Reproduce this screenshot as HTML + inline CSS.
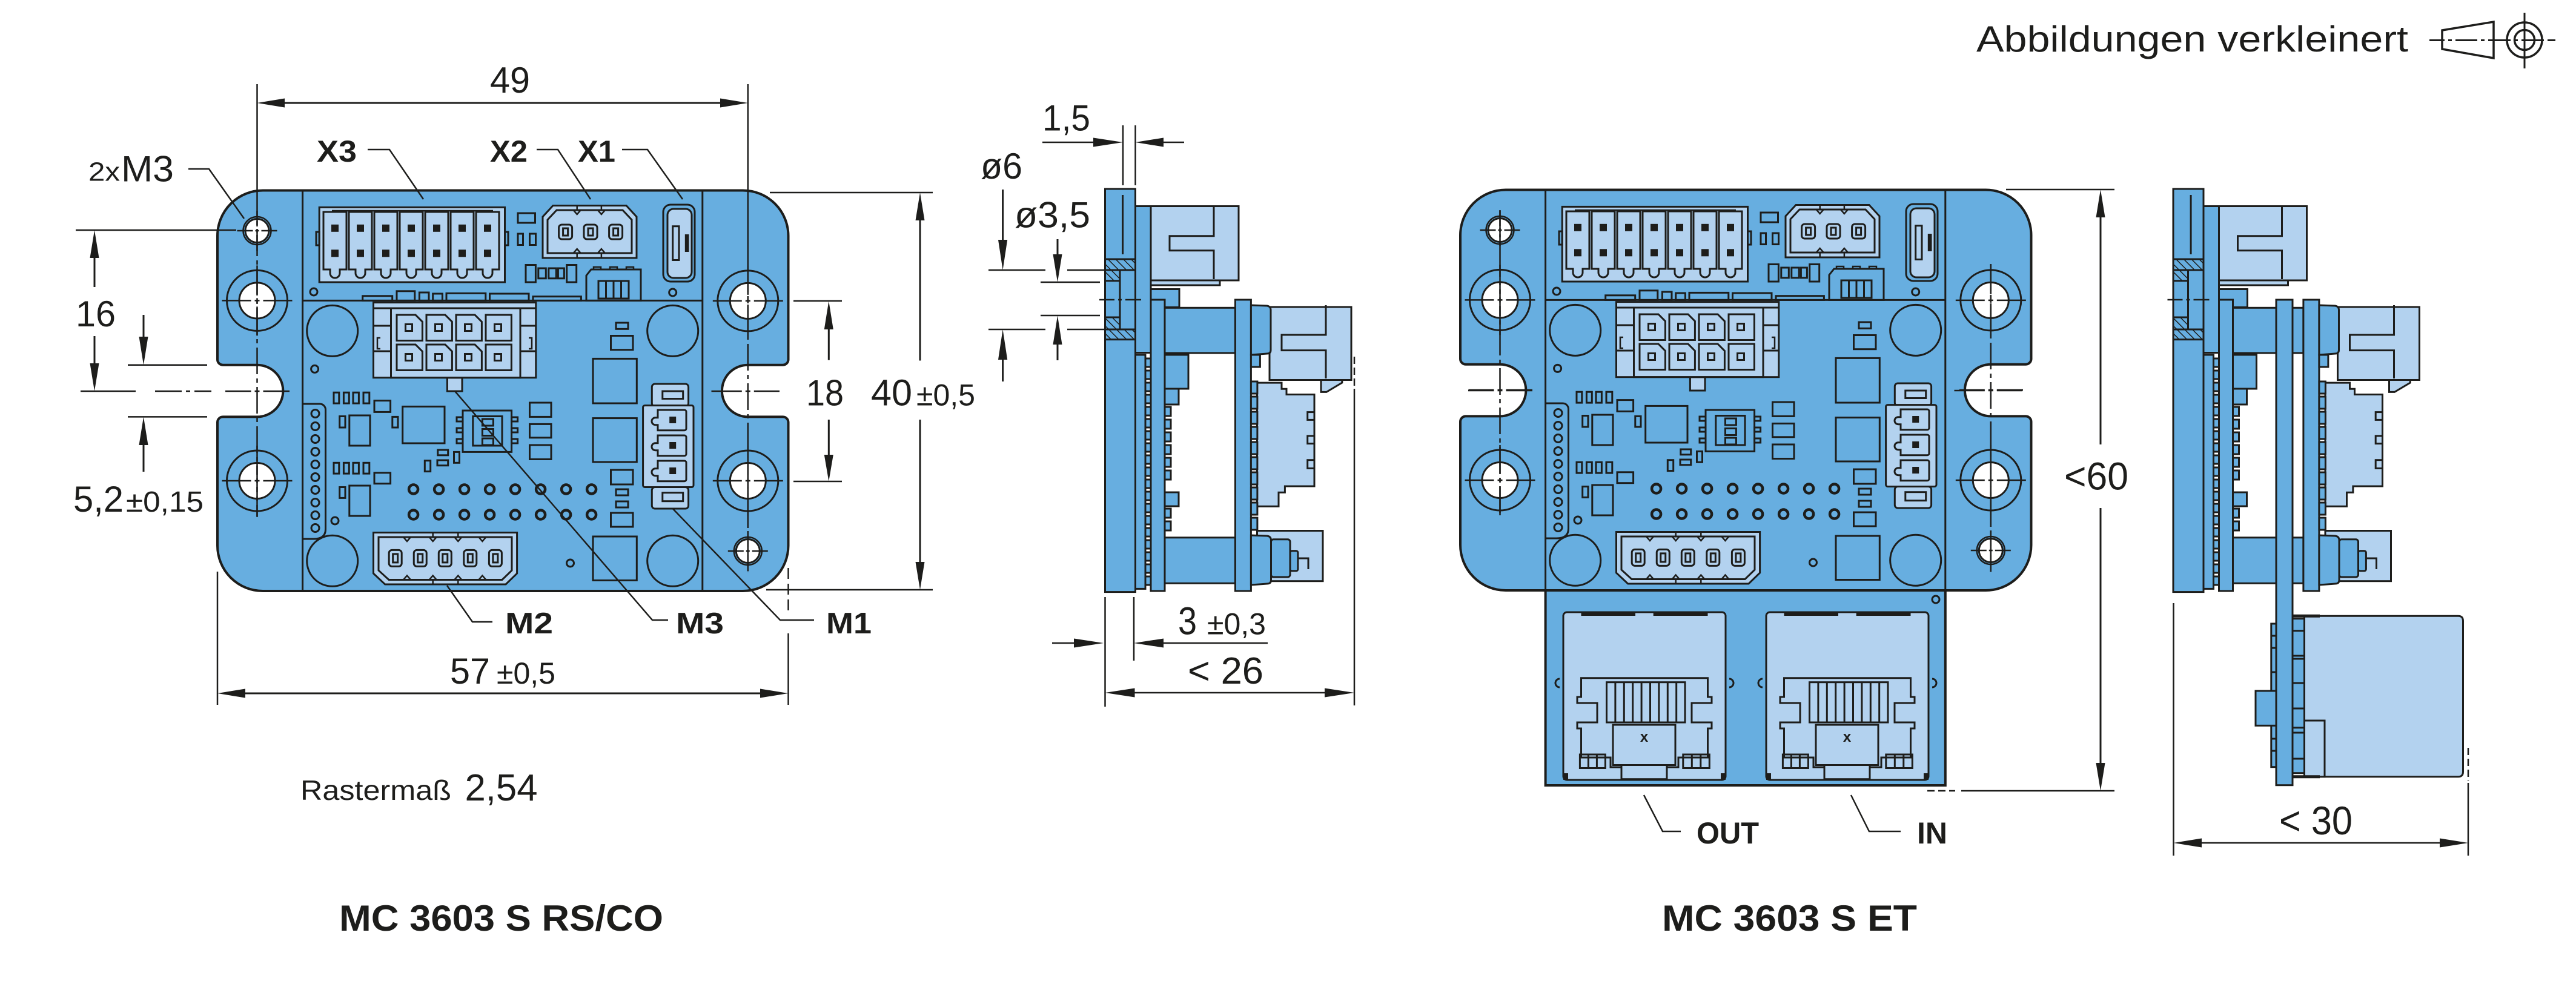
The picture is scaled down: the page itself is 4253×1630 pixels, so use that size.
<!DOCTYPE html>
<html><head><meta charset="utf-8">
<style>
html,body{margin:0;padding:0;background:#fff}
svg{display:block}
.k{fill:none;stroke:#1d1d1b;stroke-width:3}
.b{fill:#67aee0;stroke:#1d1d1b;stroke-width:3}
.l{fill:#b3d2ef;stroke:#1d1d1b;stroke-width:3}
.d{fill:#1d1d1b}
.t{fill:none;stroke:#1d1d1b;stroke-width:2.5}
.dm{fill:none;stroke:#1d1d1b;stroke-width:3}
.cl{fill:none;stroke:#1d1d1b;stroke-width:2.5;stroke-dasharray:44 7 7 7}
.w{fill:#fff;stroke:#1d1d1b;stroke-width:3}
text{font-family:"Liberation Sans",Arial,sans-serif;fill:#1d1d1b}
.bd{font-weight:bold}
</style></head><body>
<svg width="4253" height="1630" viewBox="0 0 4253 1630" xmlns="http://www.w3.org/2000/svg">
<defs>
<pattern id="h" patternUnits="userSpaceOnUse" width="9" height="9" patternTransform="rotate(-45)"><rect width="9" height="9" fill="#67aee0"/><line x1="0" y1="0" x2="0" y2="9" stroke="#1d1d1b" stroke-width="3"/></pattern>

<g id="board">
<path d="M434,314.5 L1226.5,314.5 A75 75 0 0 1 1301.5,389.5 L1301.5,593.7 A9 9 0 0 1 1292.5,602.7 L1234.8,602.7 A42.85 42.85 0 0 0 1234.8,688.4 L1292.5,688.4 A9 9 0 0 1 1301.5,697.4 L1301.5,901 A75 75 0 0 1 1226.5,976 L434,976 A75 75 0 0 1 359,901 L359,697.4 A9 9 0 0 1 368,688.4 L424.5,688.4 A42.85 42.85 0 0 0 424.5,602.7 L368,602.7 A9 9 0 0 1 359,593.7 L359,389.5 A75 75 0 0 1 434,314.5 Z" fill="#67aee0" stroke="#1d1d1b" stroke-width="4"/>
<path d="M499.6,314.5V976M1159.8,314.5V976M499.6,496.4H1159.8" class="k"/>
<!-- holes -->
<circle cx="424.5" cy="496.4" r="50" class="k"/><circle cx="424.5" cy="496.4" r="29.5" class="w"/>
<circle cx="424.5" cy="794" r="50" class="k"/><circle cx="424.5" cy="794" r="29.5" class="w"/>
<circle cx="1234.8" cy="496.9" r="50" class="k"/><circle cx="1234.8" cy="496.9" r="29.5" class="w"/>
<circle cx="1234.8" cy="794" r="50" class="k"/><circle cx="1234.8" cy="794" r="29.5" class="w"/>
<circle cx="424.5" cy="381" r="23" class="t"/><circle cx="424.5" cy="381" r="19.5" class="w"/>
<circle cx="1234.8" cy="910" r="23" class="t"/><circle cx="1234.8" cy="910" r="19.5" class="w"/>
<path class="t" d="M366.5,496.4H414.5M420.5,496.4H428.5M434.5,496.4H482.5M424.5,438.4V486.4M424.5,492.4V500.4M424.5,506.4V554.4
M366.5,794H414.5M420.5,794H428.5M434.5,794H482.5M424.5,736V784M424.5,790V798M424.5,804V852
M1176.8,496.9H1224.8M1230.8,496.9H1238.8M1244.8,496.9H1292.8M1234.8,438.9V486.9M1234.8,492.9V500.9M1234.8,506.9V554.9
M1176.8,794H1224.8M1230.8,794H1238.8M1244.8,794H1292.8M1234.8,736V784M1234.8,790V798M1234.8,804V852
M391.5,381H417.5M421.5,381H427.5M431.5,381H457.5M424.5,348V374M424.5,378V384M424.5,388V414
M1201.8,910H1227.8M1231.8,910H1237.8M1241.8,910H1267.8M1234.8,877V903M1234.8,907V913M1234.8,917V943
M372,646H414.5M420.5,646H428.5M434.5,646H478M1174.5,646H1224.8M1230.8,646H1238.8M1244.8,646H1287"/>

<!-- X3 -->
<rect x="527.2" y="342.4" width="306.3" height="123.6" class="l"/>
<path d="M548,348H814" class="t"/>
<rect x="522" y="383" width="5.2" height="22" class="k"/><rect x="833.5" y="383" width="5.5" height="22" class="k"/>
<g stroke-width="4.5">
<path d="M534,350h38v95h-11v6a8 8 0 0 1 -16 0v-6h-11z" class="l" stroke-width="4.5"/>
<path d="M576,350h38v95h-11v6a8 8 0 0 1 -16 0v-6h-11z" class="l" stroke-width="4.5"/>
<path d="M618,350h38v95h-11v6a8 8 0 0 1 -16 0v-6h-11z" class="l" stroke-width="4.5"/>
<path d="M660,350h38v95h-11v6a8 8 0 0 1 -16 0v-6h-11z" class="l" stroke-width="4.5"/>
<path d="M702,350h38v95h-11v6a8 8 0 0 1 -16 0v-6h-11z" class="l" stroke-width="4.5"/>
<path d="M744,350h38v95h-11v6a8 8 0 0 1 -16 0v-6h-11z" class="l" stroke-width="4.5"/>
<path d="M786,350h38v95h-11v6a8 8 0 0 1 -16 0v-6h-11z" class="l" stroke-width="4.5"/>
</g>
<g class="d">
<rect x="547" y="370.8" width="12" height="12"/><rect x="547" y="412.3" width="12" height="12"/>
<rect x="589" y="370.8" width="12" height="12"/><rect x="589" y="412.3" width="12" height="12"/>
<rect x="631" y="370.8" width="12" height="12"/><rect x="631" y="412.3" width="12" height="12"/>
<rect x="673" y="370.8" width="12" height="12"/><rect x="673" y="412.3" width="12" height="12"/>
<rect x="715" y="370.8" width="12" height="12"/><rect x="715" y="412.3" width="12" height="12"/>
<rect x="757" y="370.8" width="12" height="12"/><rect x="757" y="412.3" width="12" height="12"/>
<rect x="799" y="370.8" width="12" height="12"/><rect x="799" y="412.3" width="12" height="12"/>
</g>
<rect x="855" y="352" width="28.5" height="16" class="k"/>
<rect x="855" y="386" width="8.5" height="18.5" class="k"/><rect x="874.5" y="386" width="10" height="18.5" class="k"/>

<!-- X2 -->
<polygon points="913,339.5 1034,339.5 1051,358 1051,426 896,426 896,358" class="l"/>
<polygon points="919,347 1028,347 1043,363 1043,418 904,418 904,363" class="k"/>
<path class="t" d="M946.7,347l6,7l6,-7M986.9,347l6,7l6,-7M946.7,418l6,-7l6,7M986.9,418l6,-7l6,7M952.7,339.5V347M992.9,339.5V347M952.7,418V426M992.9,418V426"/>
<rect x="922.6" y="371" width="22" height="24" rx="5" class="l" stroke-width="4.5"/><rect x="929.6" y="377" width="8" height="12" class="k" stroke-width="2"/>
<rect x="964" y="371" width="22" height="24" rx="5" class="l" stroke-width="4.5"/><rect x="971" y="377" width="8" height="12" class="k" stroke-width="2"/>
<rect x="1005.6" y="371" width="22" height="24" rx="5" class="l" stroke-width="4.5"/><rect x="1012.6" y="377" width="8" height="12" class="k" stroke-width="2"/>

<!-- X1 -->
<rect x="1095" y="338" width="52" height="127" rx="12" class="k"/>
<rect x="1102" y="345" width="40" height="114" rx="10" class="l"/>
<rect x="1110.7" y="373.7" width="10.3" height="55.8" class="k"/>
<rect x="1130.8" y="387" width="6.7" height="29" class="d"/>

<rect x="868" y="437.5" width="16.4" height="28.5" class="k"/>
<rect x="888.8" y="443" width="12.5" height="16.8" class="k"/>
<rect x="905.8" y="443" width="12.5" height="16.8" class="k"/>
<rect x="921.4" y="443" width="10" height="16.8" class="k"/>
<rect x="935.7" y="437.5" width="16" height="28.5" class="k"/>

<!-- DIP -->
<path d="M968,455L976,445H1058V496.4H968Z" class="k"/>
<path d="M980,445v-4h12v4M1007,445v-4h12v4M1034,445v-4h12v4" class="t"/>
<rect x="988" y="464" width="50" height="29" class="k"/>
<path d="M1000.5,464V493M1013,464V493M1025.5,464V493" class="k"/>

<circle cx="518" cy="482" r="6" class="k"/><circle cx="519.6" cy="609.4" r="6" class="k"/>
<circle cx="553" cy="860" r="6" class="k"/><circle cx="941.5" cy="930" r="6" class="k"/>
<circle cx="1110.7" cy="483" r="6" class="k"/>

<rect x="598.7" y="488.8" width="49" height="7.6" class="k"/>
<rect x="655" y="480.8" width="29.8" height="15.6" class="k"/>
<rect x="692.4" y="483" width="15.6" height="13.4" class="k"/>
<rect x="714.7" y="485" width="15.7" height="11.4" class="k"/>
<rect x="737" y="484.4" width="64.8" height="12" class="k"/>
<rect x="808.5" y="485" width="64.5" height="11.4" class="k"/>
<rect x="880" y="489.7" width="79.4" height="6.7" class="k"/>

<!-- 8 pin -->
<rect x="738.4" y="623.7" width="24.6" height="22.3" class="l"/>
<rect x="616.5" y="499.6" width="268.3" height="124.1" class="l"/>
<rect x="645.5" y="509" width="213.5" height="114.7" class="k"/>
<path class="k" d="M616.5,538H645.5M616.5,580H645.5M859,538H884.8M859,580H884.8M616.5,509H645.5M859,509H884.8"/>
<path class="t" d="M628,558h-5v18h5M873,558h5v18h-5"/>
<path class="k" d="M655,520h31l11.4,11.4v31.1h-42.4zM704,520h31l11.4,11.4v31.1h-42.4zM753,520h31l11.4,11.4v31.1h-42.4zM802,520h42.4v42.5h-42.4z
M655,569h31l11.4,11.4v31.1h-42.4zM704,569h31l11.4,11.4v31.1h-42.4zM753,569h31l11.4,11.4v31.1h-42.4zM802,569h42.4v42.5h-42.4z"/>
<g class="k" stroke-width="2.5">
<rect x="669.5" y="535.5" width="11" height="11"/><rect x="718.5" y="535.5" width="11" height="11"/><rect x="767.5" y="535.5" width="11" height="11"/><rect x="816.5" y="535.5" width="11" height="11"/>
<rect x="669.5" y="584.5" width="11" height="11"/><rect x="718.5" y="584.5" width="11" height="11"/><rect x="767.5" y="584.5" width="11" height="11"/><rect x="816.5" y="584.5" width="11" height="11"/>
</g>

<circle cx="548.7" cy="546.4" r="42" class="k"/><circle cx="548.7" cy="926.3" r="42" class="k"/>
<circle cx="1110.7" cy="546.4" r="42" class="k"/><circle cx="1110.7" cy="926.3" r="42" class="k"/>

<!-- left components -->
<g class="k">
<rect x="551" y="648.2" width="8.8" height="17.9"/><rect x="567.4" y="648.2" width="8.9" height="17.9"/><rect x="583" y="648.2" width="9.4" height="17.9"/><rect x="600" y="648.2" width="9.8" height="17.9"/>
<rect x="618" y="661.6" width="26.6" height="18.8"/>
<rect x="560.7" y="687.5" width="9.3" height="18.5"/>
<rect x="576.8" y="686" width="34.2" height="50"/>
<rect x="647.8" y="688.4" width="9.2" height="17.6"/>
<rect x="664.7" y="671.4" width="69.3" height="60.6"/>
<rect x="551" y="764.3" width="8.8" height="17.8"/><rect x="567.4" y="764.3" width="8.9" height="17.8"/><rect x="583" y="764.3" width="9.4" height="17.8"/><rect x="600" y="764.3" width="9.8" height="17.8"/>
<rect x="618" y="780.8" width="26.6" height="17.9"/>
<rect x="560.7" y="804.5" width="9.3" height="17.9"/>
<rect x="576.8" y="802" width="34.2" height="50"/>
<rect x="722.8" y="743" width="16.9" height="8.8"/><rect x="722" y="760" width="17.7" height="8.75"/>
<rect x="749.5" y="746.4" width="9" height="17.9"/><rect x="701.3" y="760.7" width="9.4" height="17.9"/>
<rect x="764" y="678" width="80.6" height="68.4"/>
<rect x="780.8" y="687.5" width="48.2" height="48.5"/>
<rect x="754" y="689" width="10" height="7"/><rect x="754" y="707" width="10" height="7"/><rect x="754" y="725" width="10" height="7"/>
<rect x="844.6" y="689" width="10" height="7"/><rect x="844.6" y="707" width="10" height="7"/><rect x="844.6" y="725" width="10" height="7"/>
<rect x="796.4" y="692" width="18" height="11"/><rect x="796.4" y="708.5" width="18" height="11"/><rect x="796.4" y="724" width="18" height="11"/>
<rect x="874.5" y="665" width="35.5" height="23.4"/><rect x="874.5" y="700.4" width="35.5" height="22.4"/><rect x="874.5" y="735" width="35.5" height="23.5"/>
<path d="M499.6,667H528A9.5 9.5 0 0 1 537.5,676.5V874Q537.5,890 518,890H499.6"/>
<circle cx="520.5" cy="683" r="6.5"/><circle cx="520.5" cy="704" r="6.5"/><circle cx="520.5" cy="725" r="6.5"/><circle cx="520.5" cy="746" r="6.5"/><circle cx="520.5" cy="767" r="6.5"/><circle cx="520.5" cy="788" r="6.5"/><circle cx="520.5" cy="809" r="6.5"/><circle cx="520.5" cy="830" r="6.5"/><circle cx="520.5" cy="851" r="6.5"/><circle cx="520.5" cy="872" r="6.5"/>
<!-- right comps -->
<rect x="1017" y="533" width="20" height="10.3"/><rect x="1008.5" y="554.5" width="36.5" height="23.2"/>
<rect x="979" y="592.4" width="72.3" height="73.6"/><rect x="979" y="690.6" width="72.3" height="72.4"/><rect x="979" y="886" width="72.3" height="72.5"/>
<rect x="1008.5" y="776" width="36.5" height="24"/><rect x="1017" y="808" width="20" height="10"/><rect x="1017" y="828" width="20" height="10"/><rect x="1008.5" y="847" width="36.5" height="23"/>
</g>
<!-- dots -->
<g fill="#67aee0" stroke="#1d1d1b" stroke-width="4.5">
<circle cx="682.6" cy="808" r="7.5"/><circle cx="724.6" cy="808" r="7.5"/><circle cx="766.6" cy="808" r="7.5"/><circle cx="808.6" cy="808" r="7.5"/><circle cx="850.6" cy="808" r="7.5"/><circle cx="892.6" cy="808" r="7.5"/><circle cx="934.6" cy="808" r="7.5"/><circle cx="976.6" cy="808" r="7.5"/>
<circle cx="682.6" cy="850" r="7.5"/><circle cx="724.6" cy="850" r="7.5"/><circle cx="766.6" cy="850" r="7.5"/><circle cx="808.6" cy="850" r="7.5"/><circle cx="850.6" cy="850" r="7.5"/><circle cx="892.6" cy="850" r="7.5"/><circle cx="934.6" cy="850" r="7.5"/><circle cx="976.6" cy="850" r="7.5"/>
</g>
<!-- M2 connector -->
<polygon points="616.5,879.5 853.6,879.5 853.6,947 835,965 635.7,965 616.5,947" class="l" stroke-width="3.5"/>
<polygon points="625,887 845,887 845,942 829,957.5 642,957.5 625,942" class="k"/>
<path class="t" d="M666,887l6,7l6,-7M708.7,887l6,7l6,-7M750.3,887l6,7l6,-7M790.4,887l6,7l6,-7M666,957.5l6,-7l6,7M708.7,957.5l6,-7l6,7M750.3,957.5l6,-7l6,7M790.4,957.5l6,-7l6,7M714.7,879.5V887M756.3,879.5V887M714.7,957.5V965M756.3,957.5V965"/>
<g>
<rect x="642.2" y="908.4" width="21" height="27" rx="5" class="l" stroke-width="4.5"/><rect x="648.7" y="914.9" width="8" height="14" class="k" stroke-width="2"/>
<rect x="683.25" y="908.4" width="21" height="27" rx="5" class="l" stroke-width="4.5"/><rect x="689.75" y="914.9" width="8" height="14" class="k" stroke-width="2"/>
<rect x="724.3" y="908.4" width="21" height="27" rx="5" class="l" stroke-width="4.5"/><rect x="730.8" y="914.9" width="8" height="14" class="k" stroke-width="2"/>
<rect x="765.8" y="908.4" width="21" height="27" rx="5" class="l" stroke-width="4.5"/><rect x="772.3" y="914.9" width="8" height="14" class="k" stroke-width="2"/>
<rect x="807.4" y="908.4" width="21" height="27" rx="5" class="l" stroke-width="4.5"/><rect x="813.9" y="914.9" width="8" height="14" class="k" stroke-width="2"/>
</g>
<!-- M1 connector -->
<rect x="1076.3" y="634" width="60.3" height="37" rx="5" class="l"/><rect x="1093.8" y="646" width="33.9" height="12.5" class="k" stroke-width="2.5"/>
<rect x="1076.3" y="804.5" width="60.3" height="35.5" rx="5" class="l"/><rect x="1093.8" y="813.7" width="33.9" height="14" class="k" stroke-width="2.5"/>
<rect x="1061.6" y="669.6" width="83.4" height="134.9" rx="3" class="l"/>
<path class="l" stroke-width="3.5" d="M1086,677h44a3 3 0 0 1 3 3v27.7a3 3 0 0 1 -3 3h-44v-9h-4a6 6 0 0 1 0 -12h4z"/>
<path class="l" stroke-width="3.5" d="M1086,719h44a3 3 0 0 1 3 3v27.7a3 3 0 0 1 -3 3h-44v-9h-4a6 6 0 0 1 0 -12h4z"/>
<path class="l" stroke-width="3.5" d="M1086,761h44a3 3 0 0 1 3 3v27.7a3 3 0 0 1 -3 3h-44v-9h-4a6 6 0 0 1 0 -12h4z"/>
<rect x="1105.2" y="688" width="11" height="11" class="d"/><rect x="1105.2" y="730" width="11" height="11" class="d"/><rect x="1105.2" y="772" width="11" height="11" class="d"/>
</g>

<g id="jack">
<rect x="0" y="0" width="268" height="277" rx="6" class="l"/>
<path d="M29.5,3H119M148.7,3H238.5" stroke="#1d1d1b" stroke-width="6"/>
<path d="M-6,110a7 7 0 0 0 0 14M274,110a7 7 0 0 1 0 14" class="k"/>
<polygon class="l" points="29.5,108.7 238.5,108.7 238.5,140 245,140 245,150 212,150 212,182 245,182 245,192 238.5,192 238.5,240 190,240 190,256 78,256 78,240 29.5,240 29.5,192 23,192 23,182 56,182 56,150 23,150 23,140 29.5,140"/>
<rect x="71.5" y="115.7" width="129.5" height="66.3" class="k"/>
<path class="k" d="M85.9,115.7V182M100.3,115.7V182M114.7,115.7V182M129.1,115.7V182M143.5,115.7V182M157.9,115.7V182M172.3,115.7V182M186.7,115.7V182"/>
<rect x="82" y="186" width="103" height="66.5" class="l"/>
<text x="133.5" y="214" font-size="24" font-weight="bold" text-anchor="middle">x</text>
<rect x="27.4" y="235" width="42" height="22.5" class="k"/><path class="k" d="M41.4,235v22.5M55.4,235v22.5"/>
<rect x="197.8" y="235" width="43.5" height="22.5" class="k"/><path class="k" d="M212.3,235v22.5M226.8,235v22.5"/>
<rect x="96" y="252.5" width="75" height="23.2" class="l"/>
<rect x="0" y="266" width="8" height="11" class="d"/><rect x="260" y="266" width="8" height="11" class="d"/>
</g>

<g id="side">
<rect x="1824.5" y="312" width="50" height="665.6" class="b" stroke-width="3.5"/>
<line x1="1853.6" y1="322" x2="1853.6" y2="420" class="k"/>
<rect x="1824.5" y="428" width="50" height="18" fill="url(#h)" stroke="#1d1d1b" stroke-width="3"/>
<rect x="1824.5" y="446" width="24.5" height="17.8" fill="url(#h)" stroke="#1d1d1b" stroke-width="3"/>
<rect x="1824.5" y="524" width="24.5" height="20" fill="url(#h)" stroke="#1d1d1b" stroke-width="3"/>
<rect x="1824.5" y="544" width="50" height="16.7" fill="url(#h)" stroke="#1d1d1b" stroke-width="3"/>
<rect x="1849" y="446" width="25.5" height="98" class="b"/>
<rect x="1874.5" y="340.5" width="25.5" height="242" class="b"/>
<rect x="1874.5" y="586" width="16.5" height="386.4" class="b"/>
<rect x="1900" y="340.5" width="145" height="122.5" class="l"/>
<path d="M2004,340.5V389.8H1931V413.8H2004V461" class="k"/>
<rect x="1900" y="463" width="114" height="8" class="l"/>
<rect x="1900" y="477.5" width="47" height="30" class="b"/>
<rect x="1900" y="495" width="23" height="481" class="b"/>
<rect x="1923" y="508.3" width="116.4" height="74.7" class="b"/>
<rect x="1923" y="887.8" width="116.4" height="75.5" class="b"/>
<rect x="2039.4" y="495" width="26" height="481" class="b"/>
<rect x="2096" y="507" width="135" height="120.5" class="l"/>
<path d="M2065.4,504L2092,505Q2098,506 2098,512V578Q2098,584 2092,584L2065.4,586Z" class="b"/>
<path d="M2189,504V553H2116V578.6H2189V625" class="k"/>
<polygon points="2181,627.5 2215.8,627.5 2215.8,632 2190,647.4 2181,647.4" class="l"/>
<rect x="2065.4" y="586" width="15" height="20" class="b"/>
<polygon class="l" points="2075.5,632.1 2116,632.1 2116,642.3 2124,642.3 2124,651.5 2170,651.5 2170,803 2121.4,803 2121.4,813.3 2111,813.3 2111,836.2 2075.5,836.2"/>
<rect x="2158.7" y="680.6" width="11.3" height="12.8" class="k"/><rect x="2158.7" y="719.9" width="11.3" height="12.7" class="k"/><rect x="2158.7" y="759.7" width="11.3" height="13.8" class="k"/>
<rect x="2075.5" y="876.5" width="108.5" height="83.2" class="l"/>
<path d="M2065.4,884L2092,885Q2098.5,886 2098.5,892V958Q2098.5,964 2092,964L2065.4,966Z" class="b"/>
<rect x="2098.5" y="890.8" width="31.5" height="62.2" rx="4" class="b"/>
<rect x="2130" y="909.7" width="12.9" height="33.2" rx="3" class="b"/>
<path d="M2142.9,922H2160V940" class="k"/>
<g class="b">
<rect x="1923" y="586" width="39" height="56"/><rect x="1923" y="642" width="23" height="26"/><rect x="1923" y="813" width="23" height="23"/>
<rect x="1923" y="672" width="10" height="15"/><rect x="1923" y="693" width="10" height="15"/><rect x="1923" y="714" width="10" height="15"/><rect x="1923" y="735" width="10" height="15"/><rect x="1923" y="756" width="10" height="15"/><rect x="1923" y="777" width="10" height="15"/><rect x="1923" y="840" width="10" height="15"/><rect x="1923" y="861" width="10" height="15"/>
<rect x="1891" y="592" width="9" height="14"/><rect x="1891" y="612" width="9" height="14"/><rect x="1891" y="632" width="9" height="14"/><rect x="1891" y="652" width="9" height="14"/><rect x="1891" y="672" width="9" height="14"/><rect x="1891" y="692" width="9" height="14"/><rect x="1891" y="712" width="9" height="14"/><rect x="1891" y="732" width="9" height="14"/><rect x="1891" y="752" width="9" height="14"/><rect x="1891" y="772" width="9" height="14"/><rect x="1891" y="792" width="9" height="14"/><rect x="1891" y="812" width="9" height="14"/><rect x="1891" y="832" width="9" height="14"/><rect x="1891" y="852" width="9" height="14"/><rect x="1891" y="872" width="9" height="14"/><rect x="1891" y="892" width="9" height="14"/><rect x="1891" y="912" width="9" height="14"/><rect x="1891" y="932" width="9" height="14"/><rect x="1891" y="952" width="9" height="14"/>
<rect x="2065.4" y="630" width="10.5" height="20"/><rect x="2065.4" y="655" width="10.5" height="20"/><rect x="2065.4" y="680" width="10.5" height="20"/><rect x="2065.4" y="705" width="10.5" height="20"/><rect x="2065.4" y="730" width="10.5" height="20"/><rect x="2065.4" y="755" width="10.5" height="20"/><rect x="2065.4" y="780" width="10.5" height="20"/><rect x="2065.4" y="805" width="10.5" height="20"/><rect x="2065.4" y="830" width="10.5" height="20"/><rect x="2065.4" y="855" width="10.5" height="20"/>
</g>
<path d="M1815,495H1840M1846,495H1852M1858,495H1884" class="t"/>
</g>
</defs>

<!-- LEFT BOARD -->
<use href="#board"/>
<!-- center lines left board -->
<path class="t" d="M424.5,139V314M1234.8,139V438"/>
<path class="cl" d="M424.5,314V854M1234.8,438V945"/>
<path class="cl" d="M256,646H349"/>

<!-- dims left board -->
<path class="dm" d="M470,170H1189"/>
<polygon points="424.5,170 470,162.5 470,177.5" class="d"/><polygon points="1234.8,170 1189,162.5 1189,177.5" class="d"/>
<text x="809" y="153" font-size="60" textLength="66" lengthAdjust="spacingAndGlyphs">49</text>

<path class="t" d="M125,380H390M133,646H224"/>
<path class="dm" d="M156,426V474M156,555V600"/>
<polygon points="156,380 148.5,426 163.5,426" class="d"/><polygon points="156,646 148.5,600 163.5,600" class="d"/>
<text x="125" y="539" font-size="60" textLength="66" lengthAdjust="spacingAndGlyphs">16</text>

<path class="t" d="M211,602.7H342M211,688.4H342"/>
<path class="dm" d="M237,520V556M237,735V779"/>
<polygon points="237,602.7 229.5,556 244.5,556" class="d"/><polygon points="237,688.4 229.5,735 244.5,735" class="d"/>
<text x="121" y="845" font-size="60" textLength="83" lengthAdjust="spacingAndGlyphs">5,2</text>
<text x="208" y="845" font-size="48" textLength="128" lengthAdjust="spacingAndGlyphs">±0,15</text>

<path class="t" d="M1310,497H1390M1310,795H1390"/>
<path class="dm" d="M1368.3,544V594.6M1368.3,693V751"/>
<polygon points="1368.3,497 1360.8,544 1375.8,544" class="d"/><polygon points="1368.3,795 1360.8,751 1375.8,751" class="d"/>
<text x="1331" y="669.6" font-size="60" textLength="62" lengthAdjust="spacingAndGlyphs">18</text>

<path class="t" d="M1271,318H1540M1265,974H1540"/>
<path class="dm" d="M1519,364V595.5M1519,693V928"/>
<polygon points="1519,318 1511.5,364 1526.5,364" class="d"/><polygon points="1519,974 1511.5,928 1526.5,928" class="d"/>
<text x="1438" y="669.6" font-size="61" textLength="68" lengthAdjust="spacingAndGlyphs">40</text>
<text x="1513" y="669.6" font-size="50" textLength="97" lengthAdjust="spacingAndGlyphs">±0,5</text>

<path class="t" d="M359,944V1164M1301.5,1046V1164"/>
<path class="t" d="M1301.5,938V1015" stroke-dasharray="18 8"/>
<path class="dm" d="M405,1145H1255"/>
<polygon points="359,1145 405,1137.5 405,1152.5" class="d"/><polygon points="1301.5,1145 1255,1137.5 1255,1152.5" class="d"/>
<text x="743" y="1129" font-size="60" textLength="66" lengthAdjust="spacingAndGlyphs">57</text>
<text x="820" y="1129" font-size="50" textLength="97" lengthAdjust="spacingAndGlyphs">±0,5</text>

<!-- leaders -->
<polyline class="t" points="311,279 345,279 403,361"/>
<polyline class="t" points="607,247 643,247 699,329"/>
<polyline class="t" points="886,247 921,247 975,329"/>
<polyline class="t" points="1027,247 1069,247 1127,329"/>
<polyline class="t" points="738,967 780,1027 813,1027"/>
<polyline class="t" points="751,646 1077,1024 1103,1024"/>
<polyline class="t" points="1110.7,840 1288,1024 1344,1024"/>
<text x="146" y="298.5" font-size="44" textLength="52" lengthAdjust="spacingAndGlyphs">2x</text>
<text x="200" y="299.5" font-size="60" textLength="87" lengthAdjust="spacingAndGlyphs">M3</text>
<text x="523" y="267" font-size="50" class="bd" textLength="66" lengthAdjust="spacingAndGlyphs">X3</text>
<text x="809" y="267" font-size="50" class="bd" textLength="62" lengthAdjust="spacingAndGlyphs">X2</text>
<text x="954" y="267" font-size="50" class="bd" textLength="62" lengthAdjust="spacingAndGlyphs">X1</text>
<text x="834" y="1046" font-size="49" class="bd" textLength="79" lengthAdjust="spacingAndGlyphs">M2</text>
<text x="1116" y="1046" font-size="49" class="bd" textLength="79" lengthAdjust="spacingAndGlyphs">M3</text>
<text x="1364" y="1046" font-size="49" class="bd" textLength="75" lengthAdjust="spacingAndGlyphs">M1</text>

<text x="496" y="1321" font-size="46" textLength="249" lengthAdjust="spacingAndGlyphs">Rastermaß</text>
<text x="767.5" y="1322" font-size="62" textLength="120" lengthAdjust="spacingAndGlyphs">2,54</text>
<text x="560" y="1537" font-size="60" class="bd" textLength="535" lengthAdjust="spacingAndGlyphs">MC 3603 S RS/CO</text>

<!-- LEFT SIDE VIEW -->
<use href="#side"/>
<path class="t" d="M1854,207V306M1874.5,207V306"/>
<path class="t" d="M1721,235H1805M1921,235H1955"/>
<polygon points="1854,235 1805,227.5 1805,242.5" class="d"/><polygon points="1874.5,235 1921,227.5 1921,242.5" class="d"/>
<text x="1721" y="215.5" font-size="60" textLength="79" lengthAdjust="spacingAndGlyphs">1,5</text>

<path class="t" d="M1632,446H1726M1762,446H1825M1632,544H1726M1762,544H1825"/>
<path class="dm" d="M1655.6,313V396M1655.6,594V630"/>
<polygon points="1655.6,446 1648,396 1663.2,396" class="d"/><polygon points="1655.6,544 1648,594 1663.2,594" class="d"/>
<text x="1619" y="295" font-size="60" textLength="69" lengthAdjust="spacingAndGlyphs">ø6</text>

<path class="t" d="M1718,466H1816M1718,521H1816"/>
<path class="dm" d="M1746,395V420M1746,569V595"/>
<polygon points="1746,466 1738.5,420 1753.5,420" class="d"/><polygon points="1746,521 1738.5,569 1753.5,569" class="d"/>
<text x="1675" y="375.5" font-size="60" textLength="125" lengthAdjust="spacingAndGlyphs">ø3,5</text>

<path class="t" d="M1824.5,986V1167M1872,986V1091"/>
<path class="t" d="M1737,1062H1775M1921,1062H2093" stroke-width="2"/>
<polygon points="1822,1062 1773,1054.5 1773,1069.5" class="d"/><polygon points="1872,1062 1921,1054.5 1921,1069.5" class="d"/>
<text x="1945" y="1047.4" font-size="64" textLength="31" lengthAdjust="spacingAndGlyphs">3</text>
<text x="1993" y="1047.4" font-size="50" textLength="97" lengthAdjust="spacingAndGlyphs">±0,3</text>

<path class="t" d="M2236,642V1165"/>
<path class="t" d="M2236,589V640" stroke-dasharray="12 6"/>
<path class="t" d="M1873,1144H2187" stroke-width="2"/>
<polygon points="1824.5,1144 1873.5,1136.5 1873.5,1151.5" class="d"/><polygon points="2236,1144 2187,1136.5 2187,1151.5" class="d"/>
<text x="1961" y="1129" font-size="62" textLength="125" lengthAdjust="spacingAndGlyphs">&lt; 26</text>

<!-- RIGHT BOARD -->
<g transform="translate(2052,-1)">
<rect x="499.6" y="976" width="660.2" height="322" fill="#67aee0" stroke="#1d1d1b" stroke-width="4"/>
<use href="#board"/>
<use href="#jack" transform="translate(529,1012)"/>
<use href="#jack" transform="translate(864,1012)"/>
<circle cx="1144" cy="991" r="6" class="k"/>
</g>
<path class="cl" d="M2476.5,348V853M3286.8,436V944.5"/>
<path class="t" d="M2424.5,644H2466.5M2472.5,644H2480.5M2486.5,644H2530M3235,644H3276.8M3282.8,644H3290.8M3296.8,644H3340"/>

<path class="t" d="M3312,313H3491M3238,1306H3491"/>
<path class="t" d="M3182,1306H3228" stroke-dasharray="12 6"/>
<path class="dm" d="M3468,359V734M3468,839V1260"/>
<polygon points="3468,313 3460.5,359 3475.5,359" class="d"/><polygon points="3468,1306 3460.5,1260 3475.5,1260" class="d"/>
<text x="3408" y="808.5" font-size="64" textLength="106" lengthAdjust="spacingAndGlyphs">&lt;60</text>

<polyline class="t" points="2714,1313 2745,1373 2775,1373"/>
<polyline class="t" points="3056,1313 3086,1373 3138,1373"/>
<text x="2801" y="1393" font-size="50" class="bd" textLength="103" lengthAdjust="spacingAndGlyphs">OUT</text>
<text x="3165" y="1393" font-size="50" class="bd" textLength="50" lengthAdjust="spacingAndGlyphs">IN</text>
<text x="2744" y="1537" font-size="60" class="bd" textLength="421" lengthAdjust="spacingAndGlyphs">MC 3603 S ET</text>

<!-- RIGHT SIDE VIEW -->
<use href="#side" transform="translate(1763.5,0)"/>
<rect x="3785" y="1021.7" width="19.5" height="255" class="b"/>
<path class="k" d="M3785,1041.7H3804.5M3785,1083H3804.5M3785,1088H3804.5M3785,1128H3804.5M3785,1170H3804.5M3785,1201.7H3804.5M3785,1210H3804.5M3785,1253H3804.5"/>
<path d="M3804.5,1017.3H4058.5Q4066.5,1017.3 4066.5,1025.3V1274.7Q4066.5,1282.7 4058.5,1282.7H3804.5Z" class="l" stroke-width="3.5"/>
<rect x="3804.5" y="1190" width="33.5" height="92.7" class="l"/>
<path d="M3782,1017.3H3830M3782,1282.7H3830" stroke="#1d1d1b" stroke-width="5"/>
<rect x="3749.8" y="1030" width="8.2" height="236.7" class="b"/>
<rect x="3724" y="1141" width="34" height="57.3" class="b"/>
<path class="k" d="M3749.8,1050H3758M3749.8,1070H3758M3749.8,1110H3758M3749.8,1220H3758M3749.8,1240H3758"/>
<rect x="3758" y="495" width="27" height="801.7" class="b"/>

<path class="t" d="M3588.5,996V1413M4075,1293V1413"/>
<path class="t" d="M4075,1235V1290" stroke-dasharray="12 6"/>
<path class="t" d="M3634,1392H4029" stroke-width="2"/>
<polygon points="3588.5,1392 3635,1384.5 3635,1399.5" class="d"/><polygon points="4075,1392 4028,1384.5 4028,1399.5" class="d"/>
<text x="3763" y="1378" font-size="66" textLength="121" lengthAdjust="spacingAndGlyphs">&lt; 30</text>

<!-- title -->
<text x="3263" y="85" font-size="60" textLength="713" lengthAdjust="spacingAndGlyphs">Abbildungen verkleinert</text>
<polygon points="4032,50 4117,36 4117,96 4032,81" fill="none" stroke="#1d1d1b" stroke-width="3.5"/>
<path d="M4011,66.5H4036M4042,66.5H4048M4054,66.5H4090M4096,66.5H4102M4108,66.5H4145M4151,66.5H4157M4163,66.5H4200M4206,66.5H4219" stroke="#1d1d1b" stroke-width="3"/>
<circle cx="4168" cy="66" r="29" fill="none" stroke="#1d1d1b" stroke-width="3.5"/>
<circle cx="4168" cy="66" r="16.5" fill="none" stroke="#1d1d1b" stroke-width="3.5"/>
<path d="M4168,21V113" stroke="#1d1d1b" stroke-width="3"/>
</svg>
</body></html>
